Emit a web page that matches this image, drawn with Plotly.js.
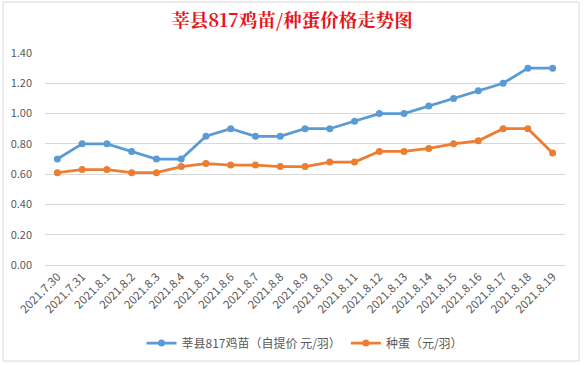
<!DOCTYPE html>
<html>
<head>
<meta charset="utf-8">
<script src="https://cdn.plot.ly/plotly-3.0.1.min.js"></script>
<style>html,body{margin:0;padding:0;background:#fff;}#chart{width:584px;height:365px;}</style>
</head>
<body>
<div id="chart"></div>
<script>
var dates = ["2021.7.30","2021.7.31","2021.8.1","2021.8.2","2021.8.3","2021.8.4","2021.8.5","2021.8.6","2021.8.7","2021.8.8","2021.8.9","2021.8.10","2021.8.11","2021.8.12","2021.8.13","2021.8.14","2021.8.15","2021.8.16","2021.8.17","2021.8.18","2021.8.19"];
var chickPrice = [0.70,0.80,0.80,0.75,0.70,0.70,0.85,0.90,0.85,0.85,0.90,0.90,0.95,1.00,1.00,1.05,1.10,1.15,1.20,1.30,1.30];
var eggPrice = [0.61,0.63,0.63,0.61,0.61,0.65,0.67,0.66,0.66,0.65,0.65,0.68,0.68,0.75,0.75,0.77,0.80,0.82,0.90,0.90,0.74];
var seriesNames = ["莘县817鸡苗（自提价 元/羽）","种蛋（元/羽）"];
var yTicks = [0,0.2,0.4,0.6,0.8,1.0,1.2,1.4];

var font = '"Microsoft YaHei","Noto Sans CJK SC","DejaVu Sans",sans-serif';
var traces = [
  {x: dates, y: chickPrice, name: seriesNames[0], type: 'scatter', mode: 'lines+markers',
   line: {color: '#5B9BD5', width: 2.75}, marker: {color: '#5B9BD5', size: 7}},
  {x: dates, y: eggPrice, name: seriesNames[1], type: 'scatter', mode: 'lines+markers',
   line: {color: '#ED7D31', width: 2.75}, marker: {color: '#ED7D31', size: 7}}
];
var layout = {
  width: 584, height: 365,
  margin: {l: 45, r: 19, t: 53, b: 100},
  paper_bgcolor: '#fff', plot_bgcolor: '#fff',
  title: {text: '<b>莘县817鸡苗/种蛋价格走势图</b>', x: 0.5, xanchor: 'center', y: 0.945, yanchor: 'middle',
    font: {family: '"Noto Serif CJK SC","Noto Sans CJK SC",serif', size: 18.5, color: '#E8141B'}},
  xaxis: {type: 'category', tickangle: -45, range: [-0.5, 20.5], showgrid: false, zeroline: false, automargin: false,
    showline: false, ticks: '', ticklabelstandoff: 2, tickfont: {family: font, size: 11.5, color: '#595959'}},
  yaxis: {range: [0, 1.4], tickvals: yTicks, tickformat: '.2f', showgrid: true, gridcolor: '#D9D9D9', gridwidth: 1,
    zeroline: true, zerolinecolor: '#D9D9D9', showline: false, ticks: '', ticklabelstandoff: 12, automargin: false,
    tickfont: {family: font, size: 11, color: '#595959'}},
  legend: {orientation: 'h', x: 0.5, xanchor: 'center', yref: 'container', y: 0.06, yanchor: 'middle',
    font: {family: font, size: 12, color: '#595959'}, itemwidth: 30},
  showlegend: true,
  shapes: [{type: 'rect', xref: 'paper', yref: 'paper', x0: -0.0808, x1: 1.027, y0: -0.453, y1: 1.2406,
    line: {color: '#D9D9D9', width: 1}}]
};
Plotly.newPlot('chart', traces, layout, {displayModeBar: false, staticPlot: true});
</script>
</body>
</html>
